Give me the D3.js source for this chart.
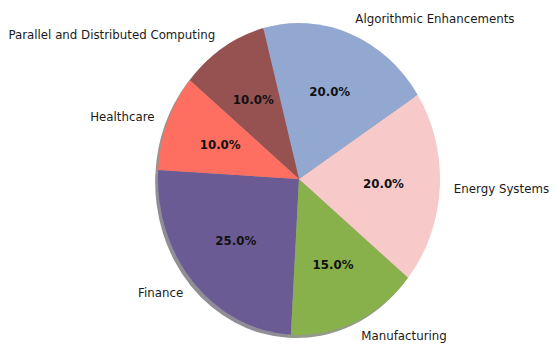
<!DOCTYPE html>
<html>
<head>
<meta charset="utf-8">
<script src="https://cdn.jsdelivr.net/npm/d3@7"></script>
<style>
  html, body { margin: 0; padding: 0; background: #fff; }
  svg { display: block; }
  text { font-family: "DejaVu Sans", sans-serif; }
</style>
</head>
<body>
<svg id="chart" width="555" height="344"></svg>
<script>
// Sector shares (percent), listed counter-clockwise from the start angle
const categories = ["Finance", "Manufacturing", "Energy Systems", "Algorithmic Enhancements",
                    "Parallel and Distributed Computing", "Healthcare"];
const shares = [25, 15, 20, 20, 10, 10];
const sliceColors = ["#6b5b95", "#88b04b", "#f7cac9", "#92a8d1", "#955251", "#ff6f61"];

const W = 555, H = 344;
const cx = 299, cy = 179;      // pie centre
const rx = 141, ry = 156;      // horizontal / vertical radius
const yStretch = ry / rx;
const startDeg = 176.7;        // first wedge starts here (counter-clockwise from 3 o'clock)

const svg = d3.select("#chart");
const toRad = d => d * Math.PI / 180;

// d3 measures from 12 o'clock clockwise; go counter-clockwise by running the end angle backwards
const pie = d3.pie()
  .sort(null)
  .value(d => d.value)
  .startAngle(toRad(90 - startDeg))
  .endAngle(toRad(90 - startDeg - 360));

const data = categories.map((c, i) => ({ name: c, value: shares[i], color: sliceColors[i] }));
const arcs = pie(data);
const total = d3.sum(shares);

const arc = d3.arc().innerRadius(0).outerRadius(rx);

// Drop shadow: darker copy of each wedge, shifted left/down, drawn underneath
const darker = c => { const k = d3.rgb(c); return d3.rgb(k.r * 0.3, k.g * 0.3, k.b * 0.3).toString(); };
svg.append("g")
  .attr("transform", `translate(${cx - 0.02 * rx},${cy + 0.02 * ry}) scale(1,${yStretch})`)
  .selectAll("path").data(arcs).join("path")
  .attr("d", arc)
  .attr("fill", d => darker(d.data.color))
  .attr("fill-opacity", 0.5);

svg.append("g")
  .attr("transform", `translate(${cx},${cy}) scale(1,${yStretch})`)
  .selectAll("path").data(arcs).join("path")
  .attr("d", arc)
  .attr("fill", d => d.data.color);

// point at a fraction of the radius along a wedge's mid angle
function polar(d, frac) {
  const a = (d.startAngle + d.endAngle) / 2;
  return [cx + frac * rx * Math.sin(a), cy - frac * ry * Math.cos(a)];
}

// Category labels just outside the rim
svg.append("g").selectAll("text").data(arcs).join("text")
  .attr("transform", d => { const p = polar(d, 1.1); return `translate(${p[0]},${p[1]})`; })
  .attr("text-anchor", d => polar(d, 1)[0] >= cx ? "start" : "end")
  .attr("dominant-baseline", "central")
  .attr("font-size", 11.8)
  .attr("fill", "#1a1a1a")
  .text(d => d.data.name);

// Percentage labels inside the wedges
svg.append("g").selectAll("text").data(arcs).join("text")
  .attr("transform", d => { const p = polar(d, 0.6); return `translate(${p[0]},${p[1]})`; })
  .attr("text-anchor", "middle")
  .attr("dominant-baseline", "central")
  .attr("font-size", 11.8)
  .attr("font-weight", "bold")
  .attr("fill", "#111")
  .text(d => (d.data.value / total * 100).toFixed(1) + "%");
</script>
</body>
</html>
